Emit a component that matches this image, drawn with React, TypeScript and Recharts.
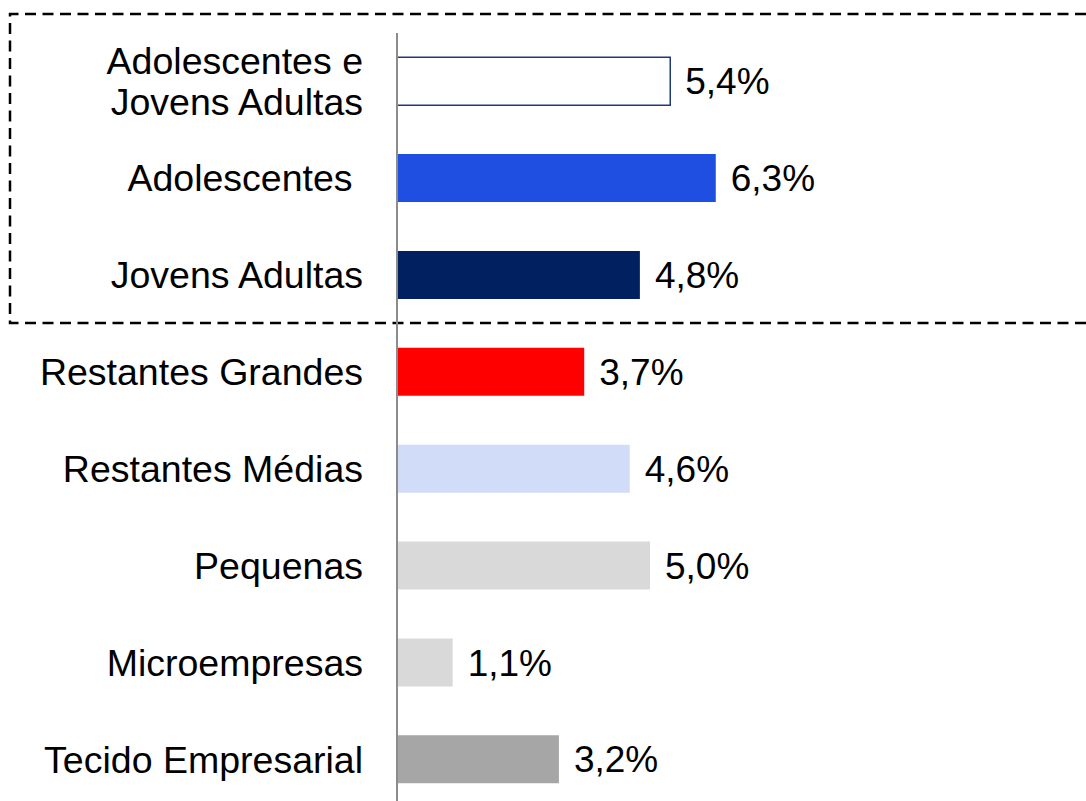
import React from 'react';
import { BarChart, Bar, XAxis, YAxis, Cell, LabelList } from 'recharts';

const categories = [
  'Adolescentes e Jovens Adultas',
  'Adolescentes',
  'Jovens Adultas',
  'Restantes Grandes',
  'Restantes Médias',
  'Pequenas',
  'Microempresas',
  'Tecido Empresarial',
];
const values = [5.4, 6.3, 4.8, 3.7, 4.6, 5.0, 1.1, 3.2];
const fills = ['#FFFFFF', '#1E4FE0', '#002060', '#FF0000', '#D0DCF8', '#D9D9D9', '#D9D9D9', '#A6A6A6'];
const strokes = ['#1F3A7A', 'none', 'none', 'none', 'none', 'none', 'none', 'none'];
const tickLines: Record<string, string[]> = {
  'Adolescentes e Jovens Adultas': ['Adolescentes e', 'Jovens Adultas'],
  'Adolescentes': ['Adolescentes\u00A0'],
};

const data = categories.map((c, i) => ({ name: c, value: values[i] }));

const FONT = 'Liberation Sans, Arial, sans-serif';

const Tick = (props: any) => {
  const { x, y, payload } = props;
  const lines = tickLines[payload.value] || [payload.value];
  const lh = 41;
  const start = -((lines.length - 1) * lh) / 2;
  return (
    <g>
      {lines.map((l: string, i: number) => (
        <text
          key={i}
          x={x}
          y={y + start + i * lh}
          textAnchor="end"
          dominantBaseline="central"
          fontFamily={FONT}
          fontSize={37.5}
          fill="#000"
        >
          {l}
        </text>
      ))}
    </g>
  );
};

export default function App() {
  return (
    <div style={{ position: 'absolute', left: 0, top: 0, width: 1086, height: 801, overflow: 'hidden', background: '#fff' }}>
      <svg width={1086} height={801} style={{ position: 'absolute', left: 0, top: 0 }}>
        <path d="M1086 14 H10 V323 H1086" fill="none" stroke="#000" strokeWidth={2.5} strokeDasharray="11 6.5" />
      </svg>
      <div style={{ position: 'absolute', left: 0, top: 0 }}>
        <BarChart
          width={1086}
          height={808}
          data={data}
          layout="vertical"
          margin={{ top: 33, right: 183, bottom: 0, left: 0 }}
          barCategoryGap="25%"
        >
          <XAxis type="number" domain={[0, 10]} hide />
          <YAxis
            type="category"
            dataKey="name"
            width={397}
            axisLine={{ stroke: '#8C8C8C', strokeWidth: 2 }}
            tickLine={false}
            tickSize={0}
            tickMargin={34}
            tick={<Tick />}
            interval={0}
          />
          <Bar dataKey="value" isAnimationActive={false}>
            {data.map((d, i) => (
              <Cell key={d.name} fill={fills[i]} stroke={strokes[i]} strokeWidth={strokes[i] === 'none' ? 0 : 1.5} />
            ))}
            <LabelList
              dataKey="value"
              position="right"
              offset={15}
              formatter={(v: any) => `${Number(v).toFixed(1).replace('.', ',')}%`}
              style={{ fontFamily: FONT, fontSize: 37, fill: '#000' }}
            />
          </Bar>
        </BarChart>
      </div>
    </div>
  );
}
